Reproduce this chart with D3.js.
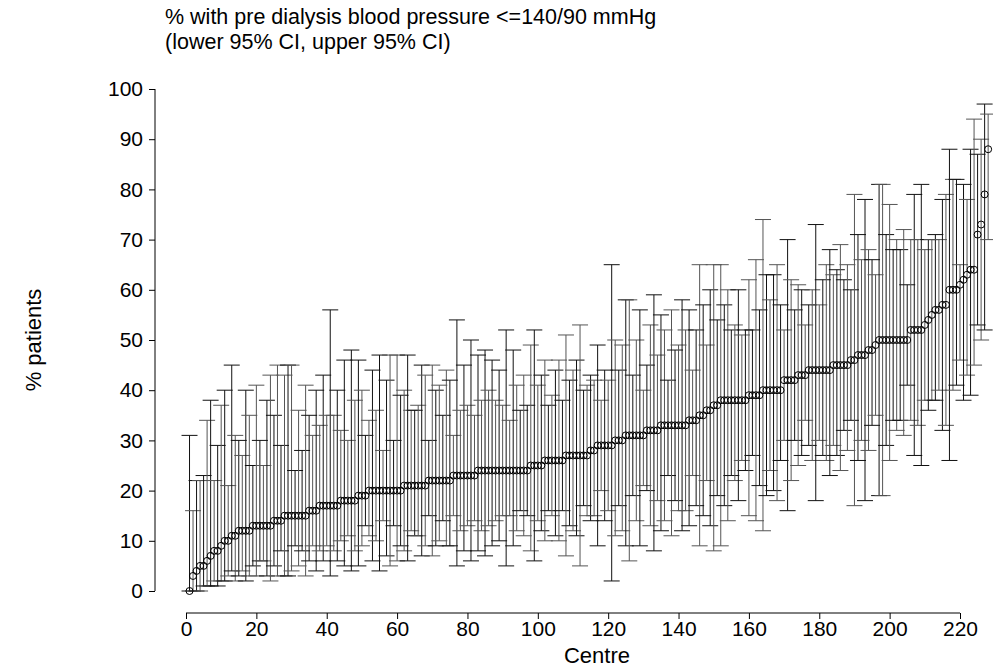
<!DOCTYPE html>
<html><head><meta charset="utf-8">
<script src="https://cdn.jsdelivr.net/npm/d3@7"></script>
<style>body{margin:0;background:#fff}text{font-family:"Liberation Sans",Arial,sans-serif}</style>
</head><body><svg id="c" width="993" height="667"></svg>
<script>
(function(d3) {
  "use strict"
  var pct = [0,3,4,5,5,6,7,8,8,9, 10,10,11,11,12,12,12,12,13,13, 13,13,13,13,14,14,14,15,15,15,
    15,15,15,15,16,16,16,17,17,17, 17,17,17,18,18,18,18,18,19,19, 19,20,20,20,20,20,20,20,20,20,
    20,21,21,21,21,21,21,21,22,22, 22,22,22,22,22,23,23,23,23,23, 23,23,24,24,24,24,24,24,24,24,
    24,24,24,24,24,24,24,25,25,25, 25,26,26,26,26,26,26,27,27,27, 27,27,27,27,28,28,29,29,29,29,
    29,30,30,30,31,31,31,31,31,31, 32,32,32,32,33,33,33,33,33,33, 33,33,34,34,34,35,35,36,36,37,
    37,38,38,38,38,38,38,38,38,39, 39,39,39,40,40,40,40,40,40,42, 42,42,42,43,43,43,44,44,44,44,
    44,44,44,45,45,45,45,45,46,46, 47,47,47,48,48,49,50,50,50,50, 50,50,50,50,50,52,52,52,52,53,
    54,55,56,56,57,57,60,60,60,61, 62,63,64,64,71,73,79,88];
  var upper = [31,16,22,22,23,34,38,22,29,37, 40,21,45,31,30,27,40,35,25,41, 30,25,38,43,35,45,29,43,45,45,
    24,36,28,41,35,31,40,33,43,35, 56,35,40,32,46,30,48,38,46,40, 31,34,44,36,47,28,42,47,30,47,
    39,40,47,36,36,37,45,43,30,45, 40,41,35,44,42,31,54,36,45,37, 50,35,47,38,48,40,46,38,44,37,
    52,34,48,41,36,43,37,49,52,41, 43,46,37,39,44,46,38,51,42,44, 46,53,40,41,43,42,49,38,44,42,
    65,50,44,49,58,58,43,50,56,40, 45,53,59,47,55,52,42,56,48,49, 58,52,56,44,52,65,57,49,60,65,
    54,65,57,60,52,53,60,51,52,62, 52,66,56,74,63,58,63,65,57,52, 70,62,56,61,60,53,57,60,73,57,
    62,65,68,63,64,69,62,65,60,79, 71,66,78,68,66,63,81,81,71,77, 68,70,68,72,61,70,79,70,81,68,
    70,70,71,70,78,79,88,82,82,65, 81,78,88,94,87,90,97,95];
  var lower = [0,0,0,0,1,1,1,2,1,2, 2,3,4,2,3,4,2,3,5,3, 6,6,3,2,5,3,8,3,3,4,
    9,5,8,3,6,9,4,8,6,9, 3,8,6,10,5,11,4,8,5,9, 13,11,6,10,4,14,7,5,13,6,
    9,8,6,12,11,11,7,9,15,7, 9,10,14,9,9,15,5,12,8,13, 6,14,8,12,7,13,9,14,10,15,
    5,15,9,12,16,11,15,8,6,14, 12,10,16,15,11,10,16,7,13,12, 11,5,17,15,14,15,9,20,14,16,
    2,11,17,12,9,6,19,14,9,21, 20,13,8,18,12,14,23,11,18,16, 12,16,13,23,17,9,15,22,13,8,
    19,9,17,14,23,22,18,26,24,15, 27,14,21,12,19,24,20,18,26,30, 16,22,30,25,27,34,29,26,18,30,
    27,26,23,29,27,24,32,28,34,17, 26,30,18,28,33,35,19,19,29,26, 34,32,34,31,41,34,27,33,25,38,
    36,38,38,40,32,33,26,40,41,46, 38,43,39,45,53,50,52,70];
  var xTicks = d3.range(0, 221, 20);
  var yTicks = d3.range(0, 101, 10);

  var svg = d3.select('#c');
  var x = d3.scaleLinear().domain([0, 220]).range([186, 960]);
  var y = d3.scaleLinear().domain([0, 100]).range([591, 89]);
  var data = pct.map(function(p, i) { return {c: i + 1, p: p, lo: lower[i], hi: upper[i]}; });

  var bars = svg.append('g').attr('stroke-width', 1).attr('fill', 'none');
  data.forEach(function(d, i) {
    var g = bars.append('g').attr('stroke', i % 2 ? '#555' : '#111');
    var cx = x(d.c);
    g.append('line').attr('x1', cx).attr('x2', cx).attr('y1', y(d.lo)).attr('y2', y(d.hi));
    g.append('line').attr('x1', cx - 8).attr('x2', cx + 8).attr('y1', y(d.lo)).attr('y2', y(d.lo));
    g.append('line').attr('x1', cx - 8).attr('x2', cx + 8).attr('y1', y(d.hi)).attr('y2', y(d.hi));
  });
  svg.append('g').selectAll('circle').data(data).join('circle')
    .attr('cx', function(d) { return x(d.c); }).attr('cy', function(d) { return y(d.p); })
    .attr('r', 3.5).attr('fill', 'none').attr('stroke', '#000').attr('stroke-width', 1);

  var ya = svg.append('g').attr('transform', 'translate(155,0)')
    .call(d3.axisLeft(y).tickValues(yTicks).tickSize(6).tickPadding(6));
  ya.select('.domain').attr('d', 'M0,' + y(0) + 'V' + y(100));
  var xa = svg.append('g').attr('transform', 'translate(0,613)')
    .call(d3.axisBottom(x).tickValues(xTicks).tickSize(6).tickPadding(2));
  xa.select('.domain').attr('d', 'M' + x(0) + ',0H' + x(220));
  svg.selectAll('.tick text').attr('font-size', 21).attr('font-family', '"Liberation Sans",Arial,sans-serif').attr('fill', '#000');

  svg.append('text').attr('x', 165).attr('y', 24).attr('font-size', 21.5).text('% with pre dialysis blood pressure <=140/90 mmHg');
  svg.append('text').attr('x', 165).attr('y', 49).attr('font-size', 21.5).text('(lower 95% CI, upper 95% CI)');
  svg.append('text').attr('transform', 'translate(41,340) rotate(-90)').attr('text-anchor', 'middle').attr('font-size', 22).text('% patients');
  svg.append('text').attr('x', 597).attr('y', 663).attr('text-anchor', 'middle').attr('font-size', 22).text('Centre');
})(window.d3);
</script></body></html>
